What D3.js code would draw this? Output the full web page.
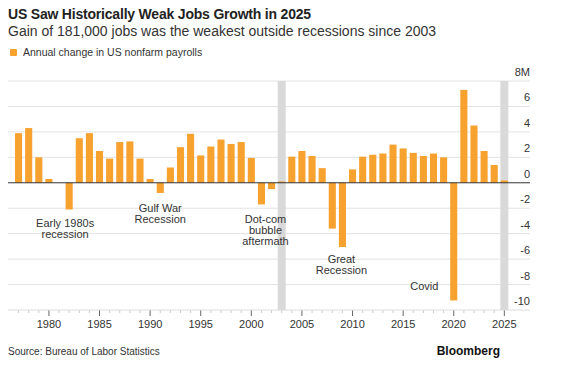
<!DOCTYPE html>
<meta charset="utf-8">
<style>
body { margin: 0; background: #fff; }
text { font-family: "Liberation Sans", Arial, sans-serif; fill: #222; }
.bar { fill: #f7a12e; }
</style>
<body>
<script src="https://d3js.org/d3.v7.min.js"></script>
<script>

// data: annual change in US nonfarm payrolls, millions
var years = d3.range(1977, 2026);
var changes = [3.9, 4.3, 2.0, 0.3, 0.0, -2.1, 3.5, 3.9, 2.5, 1.9,
               3.2, 3.25, 1.9, 0.3, -0.8, 1.2, 2.8, 3.85, 2.15, 2.85,
               3.4, 3.05, 3.2, 1.95, -1.7, -0.5, 0.1, 2.05, 2.5, 2.1,
               1.15, -3.6, -5.05, 1.05, 2.05, 2.2, 2.3, 3.0, 2.7, 2.35,
               2.1, 2.3, 2.0, -9.25, 7.3, 4.5, 2.5, 1.4, 0.18];
var yTicks = [8, 6, 4, 2, 0, -2, -4, -6, -8, -10];
var shadedYears = [2003, 2025];
var notes = [
  {year: 1981.6, val: -3.45, lines: ["Early 1980s", "recession"]},
  {year: 1991.0, val: -2.3, lines: ["Gulf War", "Recession"]},
  {year: 2001.4, val: -3.2, lines: ["Dot-com", "bubble", "aftermath"]},
  {year: 2008.9, val: -6.3, lines: ["Great", "Recession"]},
  {year: 2017.1, val: -8.45, lines: ["Covid"]}
];

var W = 563, H = 376;
var svg = d3.select("body").append("svg")
    .attr("width", W).attr("height", H);

var x = d3.scaleBand()
    .domain(years)
    .range([13.5, 509.4])
    .paddingInner(0.3)
    .paddingOuter(0.15);
var y = d3.scaleLinear()
    .domain([-10, 8])
    .range([310, 81]);

var left = 8, right = 530;

// titles
svg.append("text").attr("x", 8).attr("y", 19)
    .style("font-size", "14px").style("font-weight", "bold")
    .style("letter-spacing", "-0.2px")
    .text("US Saw Historically Weak Jobs Growth in 2025");
svg.append("text").attr("x", 8).attr("y", 36)
    .style("font-size", "14px").style("fill", "#333")
    .text("Gain of 181,000 jobs was the weakest outside recessions since 2003");

// legend
svg.append("rect").attr("x", 10).attr("y", 49).attr("width", 7).attr("height", 7)
    .attr("rx", 1).attr("fill", "#f7a12e");
svg.append("text").attr("x", 23).attr("y", 56)
    .style("font-size", "10.5px").style("fill", "#333")
    .text("Annual change in US nonfarm payrolls");

// gridlines
svg.selectAll(".grid").data(yTicks.filter(function(d) { return d != 0 && d != -10; }))
  .enter().append("line")
    .attr("class", "grid")
    .attr("x1", left).attr("x2", right)
    .attr("y1", function(d) { return y(d); }).attr("y2", function(d) { return y(d); })
    .attr("stroke", "#e2e2e2").attr("stroke-width", 1);

// shaded bands
svg.selectAll(".shade").data(shadedYears)
  .enter().append("rect")
    .attr("class", "shade")
    .attr("x", function(d) { return x(d) + x.bandwidth() / 2 - 4; })
    .attr("width", 8)
    .attr("y", y(8)).attr("height", y(-10) - y(8))
    .attr("fill", "#d9d9d9");

// bars
svg.selectAll(".bar").data(years.map(function(d, i) { return {year: d, v: changes[i]}; }))
  .enter().append("rect")
    .attr("class", "bar")
    .attr("x", function(d) { return x(d.year); })
    .attr("width", x.bandwidth())
    .attr("y", function(d) { return y(Math.max(0, d.v)); })
    .attr("height", function(d) { return Math.abs(y(d.v) - y(0)); });

// zero line
svg.append("line")
    .attr("x1", left).attr("x2", right)
    .attr("y1", y(0)).attr("y2", y(0))
    .attr("stroke", "#333").attr("stroke-width", 1);

// y labels (right side, above gridlines)
svg.selectAll(".ylab").data(yTicks)
  .enter().append("text")
    .attr("class", "ylab")
    .attr("x", right).attr("y", function(d) { return y(d) - 5; })
    .attr("text-anchor", "end")
    .style("font-size", "11px").style("fill", "#333")
    .text(function(d) { return d == 8 ? "8M" : d; });

// x axis
var xAxis = svg.append("g")
    .attr("transform", "translate(0," + y(-10) + ")")
    .call(d3.axisBottom(x).tickSize(0).tickFormat(function(d) { return d % 5 == 0 ? d : ""; }));
xAxis.select(".domain").remove();
xAxis.append("line").attr("x1", left).attr("x2", right)
    .attr("stroke", "#dcdcdc");
xAxis.selectAll(".tick line")
    .attr("y2", function(d) { return d % 5 == 0 ? 6 : 3; })
    .attr("stroke", function(d) { return d % 5 == 0 ? "#666" : "#ccc"; });
xAxis.selectAll(".tick text")
    .attr("y", 10)
    .style("font-size", "11px").style("fill", "#333")
    .style("font-family", "Liberation Sans, Arial, sans-serif");

// annotations
notes.forEach(function(n) {
  var t = svg.append("text")
      .attr("x", x(Math.round(n.year)) + x.bandwidth() / 2 + (n.year - Math.round(n.year)) * x.step())
      .attr("y", y(n.val))
      .attr("text-anchor", "middle")
      .style("font-size", "11px").style("fill", "#333");
  n.lines.forEach(function(l, i) {
    t.append("tspan").attr("x", t.attr("x")).attr("dy", i == 0 ? 0 : 11).text(l);
  });
});

// footer
svg.append("text").attr("x", 8).attr("y", 355)
    .style("font-size", "10px").style("fill", "#333")
    .text("Source: Bureau of Labor Statistics");
svg.append("text").attr("x", 500).attr("y", 355)
    .attr("text-anchor", "end")
    .style("font-size", "12px").style("font-weight", "bold").style("fill", "#111")
    .text("Bloomberg");

</script>
</body>
